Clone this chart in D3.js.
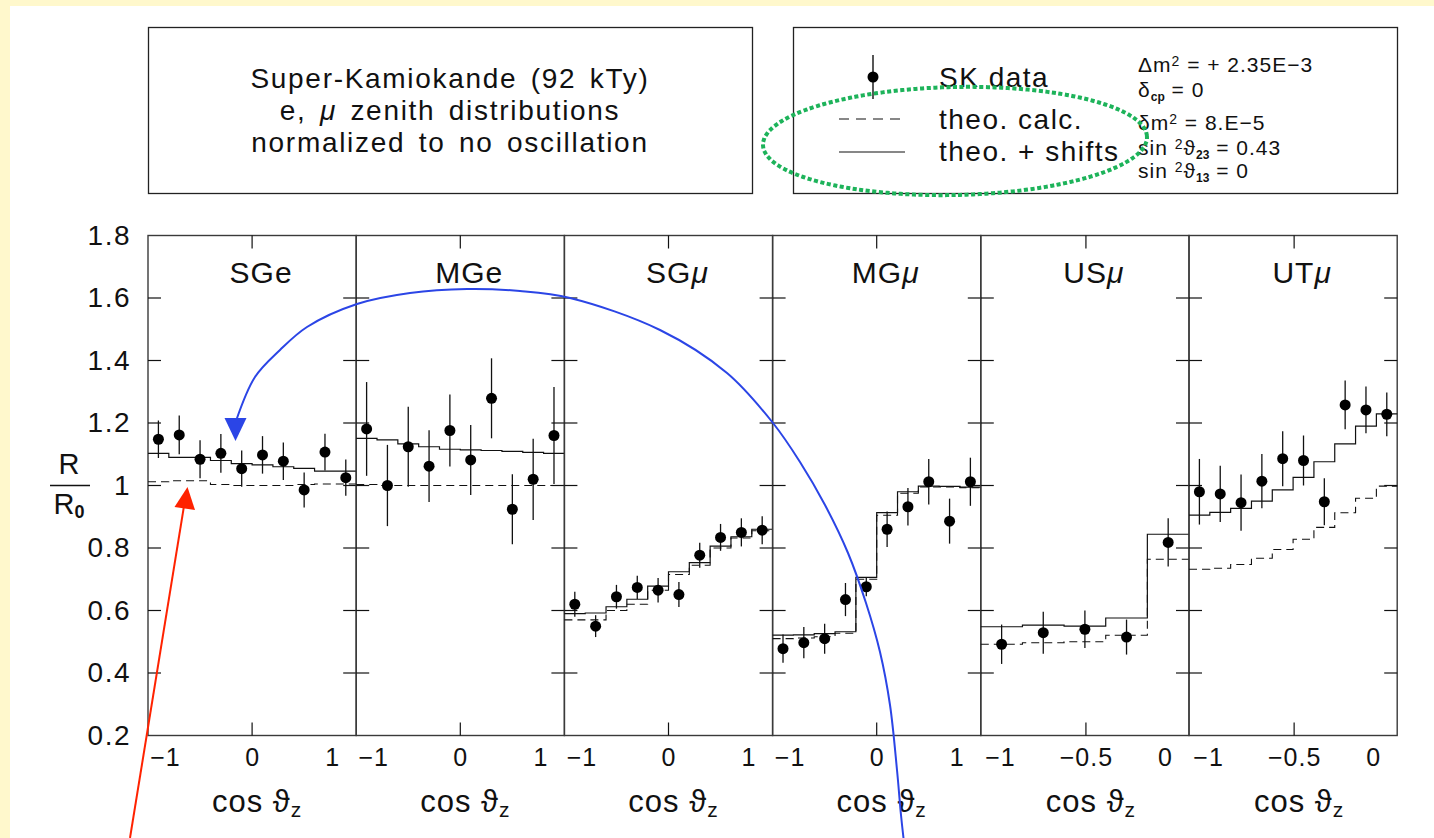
<!DOCTYPE html>
<html>
<head>
<meta charset="utf-8">
<script src="https://cdn.jsdelivr.net/npm/d3@7"></script>
<style>
  html, body { margin: 0; padding: 0; background: #fff8cc; }
  svg { display: block; }
  text { font-family: "Liberation Sans", Arial, Helvetica, sans-serif; fill: #111; }
</style>
</head>
<body>
<svg id="chart" width="1434" height="838"></svg>
<script>
// ---------------- DATA ----------------
const panelPrefix = ["SG", "MG", "SG", "MG", "US", "UT"];
const panelFlavor = ["e", "e", "μ", "μ", "μ", "μ"];
const panelKind   = ["full", "full", "full", "full", "up", "up"];

const yTicks = [1.8, 1.6, 1.4, 1.2, 1.0, 0.8, 0.6, 0.4, 0.2];
const yTickLabels = ["1.8", "1.6", "1.4", "1.2", "1", "0.8", "0.6", "0.4", "0.2"];
const xTicksFull = [-1, 0, 1];
const xTickLabelsFull = ["−1", "0", "1"];
const xTicksUp = [-1, -0.5, 0];
const xTickLabelsUp = ["−1", "−0.5", "0"];

// SK data (ratio to no oscillation), errors, theory, theory + shifts
const sgeData  = [1.148, 1.162, 1.084, 1.103, 1.054, 1.098, 1.078, 0.986, 1.107, 1.025];
const sgeErr   = [0.060, 0.062, 0.061, 0.062, 0.058, 0.060, 0.060, 0.056, 0.059, 0.058];
const sgeTheo  = [1.012, 1.015, 1.015, 1.003, 1.000, 1.000, 1.000, 1.003, 1.005, 1.005];
const sgeShift = [1.103, 1.090, 1.090, 1.080, 1.070, 1.066, 1.060, 1.055, 1.046, 1.046];

const mgeData  = [1.181, 1.000, 1.124, 1.062, 1.176, 1.082, 1.279, 0.924, 1.020, 1.160];
const mgeErr   = [0.150, 0.130, 0.128, 0.115, 0.115, 0.112, 0.128, 0.112, 0.130, 0.155];
const mgeTheo  = [1.003, 1.000, 1.000, 1.000, 1.000, 1.000, 1.000, 1.000, 1.000, 1.000];
const mgeShift = [1.151, 1.146, 1.133, 1.124, 1.116, 1.114, 1.112, 1.109, 1.106, 1.103];

const sgmData  = [0.620, 0.550, 0.644, 0.674, 0.665, 0.651, 0.777, 0.834, 0.850, 0.857];
const sgmErr   = [0.040, 0.035, 0.038, 0.037, 0.039, 0.040, 0.040, 0.043, 0.045, 0.045];
const sgmTheo  = [0.570, 0.570, 0.600, 0.620, 0.665, 0.715, 0.745, 0.800, 0.832, 0.855];
const sgmShift = [0.590, 0.592, 0.612, 0.636, 0.678, 0.724, 0.753, 0.806, 0.836, 0.860];

const mgmData  = [0.478, 0.497, 0.510, 0.635, 0.676, 0.860, 0.932, 1.012, 0.886, 1.012];
const mgmErr   = [0.045, 0.050, 0.048, 0.053, 0.030, 0.057, 0.060, 0.073, 0.072, 0.077];
const mgmTheo  = [0.510, 0.512, 0.516, 0.527, 0.700, 0.905, 0.975, 0.995, 0.995, 0.993];
const mgmShift = [0.521, 0.522, 0.526, 0.532, 0.706, 0.913, 0.980, 0.998, 0.997, 0.995];

const usmData  = [0.492, 0.529, 0.540, 0.515, 0.818];
const usmErr   = [0.063, 0.067, 0.060, 0.056, 0.077];
const usmTheo  = [0.492, 0.497, 0.500, 0.521, 0.764];
const usmShift = [0.548, 0.553, 0.550, 0.576, 0.844];

const utmData  = [0.980, 0.973, 0.945, 1.014, 1.086, 1.080, 0.948, 1.258, 1.242, 1.228];
const utmErr   = [0.105, 0.090, 0.090, 0.087, 0.088, 0.080, 0.075, 0.078, 0.075, 0.070];
const utmTheo  = [0.732, 0.735, 0.747, 0.767, 0.795, 0.828, 0.866, 0.913, 0.959, 0.998];
const utmShift = [0.905, 0.914, 0.927, 0.950, 0.986, 1.026, 1.076, 1.133, 1.190, 1.229];

const panelData  = [sgeData, mgeData, sgmData, mgmData, usmData, utmData];
const panelErr   = [sgeErr, mgeErr, sgmErr, mgmErr, usmErr, utmErr];
const panelTheo  = [sgeTheo, mgeTheo, sgmTheo, mgmTheo, usmTheo, utmTheo];
const panelShift = [sgeShift, mgeShift, sgmShift, mgmShift, usmShift, utmShift];

// Text
const titleLines = ["Super-Kamiokande (92 kTy)", "zenith distributions", "normalized to no oscillation"];
const legendLabels = ["SK data", "theo. calc.", "theo. + shifts"];

// Hand-drawn annotations (overlay, in page pixels)
const blueCurve = [[236,421],[255,377],[280,350],[307,327],[357,304],[410,293],[467,289],[520,291],[570,298],
                   [660,330],[727,373],[773,423],[800,462],[825,505],[848,553],[866,603],[880,652],
                   [890,705],[897,770],[901,815],[903.5,838]];
const blueHead = [[235.5,441],[224.5,418],[246.5,418]];
const redLine = [[130,838],[184,506]];
const redHead = [[187.5,487],[174.5,507],[195,510]];

// ---------------- LAYOUT ----------------
const svg = d3.select("#chart");
const W = 1434, H = 838;
const plotL = 148, plotR = 1397.2, plotT = 235.5, plotB = 735.5;
const nP = panelPrefix.length;
const pw = (plotR - plotL) / nP;
const FONT = "Liberation Sans, Arial, sans-serif";

svg.append("rect").attr("x", 0).attr("y", 0).attr("width", W).attr("height", H).attr("fill", "#fff8cc");
svg.append("rect").attr("x", 10).attr("y", 6).attr("width", W - 10).attr("height", H - 6).attr("fill", "#ffffff");

const y = d3.scaleLinear().domain([0.2, 1.8]).range([plotB, plotT]);

// Top boxes
svg.append("rect").attr("x", 148.5).attr("y", 27.5).attr("width", 604).attr("height", 166)
  .attr("fill", "none").attr("stroke", "#222").attr("stroke-width", 1.3);
svg.append("rect").attr("x", 793.5).attr("y", 27.5).attr("width", 604).attr("height", 166)
  .attr("fill", "none").attr("stroke", "#222").attr("stroke-width", 1.3);

// Title text
const tcx = 450;
const tAttrs = s => s.attr("text-anchor", "middle").attr("font-size", 28).attr("letter-spacing", 1.7).attr("word-spacing", 4);
tAttrs(svg.append("text").attr("x", tcx).attr("y", 88)).text(titleLines[0]);
const t2 = tAttrs(svg.append("text").attr("x", tcx).attr("y", 120));
t2.append("tspan").text("e, ");
t2.append("tspan").attr("font-style", "italic").text("μ");
t2.append("tspan").text("  " + titleLines[1]);
tAttrs(svg.append("text").attr("x", tcx).attr("y", 152)).text(titleLines[2]);

// Legend
const lg = svg.append("g");
lg.append("line").attr("x1", 873).attr("x2", 873).attr("y1", 55).attr("y2", 99).attr("stroke", "#111").attr("stroke-width", 1.4);
lg.append("circle").attr("cx", 873).attr("cy", 77).attr("r", 5.5).attr("fill", "#000");
const lAttrs = s => s.attr("font-size", 28).attr("letter-spacing", 1.5);
lAttrs(lg.append("text").attr("x", 939).attr("y", 87)).text(legendLabels[0]);
lg.append("line").attr("x1", 839).attr("x2", 904).attr("y1", 119).attr("y2", 119)
  .attr("stroke", "#111").attr("stroke-width", 1.1).attr("stroke-dasharray", "10,7");
lAttrs(lg.append("text").attr("x", 939).attr("y", 129)).text(legendLabels[1]);
lg.append("line").attr("x1", 839).attr("x2", 905).attr("y1", 152).attr("y2", 152)
  .attr("stroke", "#111").attr("stroke-width", 1.1);
lAttrs(lg.append("text").attr("x", 939).attr("y", 161)).text(legendLabels[2]);

// Parameters
const px = 1138, pfs = 21;
function param(yb, parts) {
  const t = svg.append("text").attr("x", px).attr("y", yb).attr("font-size", pfs).attr("letter-spacing", 1);
  parts.forEach(p => {
    const s = t.append("tspan").text(p.t);
    if (p.sup) s.attr("font-size", 14).attr("baseline-shift", "45%");
    if (p.sub) s.attr("font-size", 12).attr("baseline-shift", "-30%").attr("font-weight", "bold").attr("letter-spacing", 0);
  });
}
param(72, [{t: "Δm"}, {t: "2", sup: true}, {t: " = + 2.35E−3"}]);
param(97, [{t: "δ"}, {t: "cp", sub: true}, {t: " = 0"}]);
param(130, [{t: "δm"}, {t: "2", sup: true}, {t: " = 8.E−5"}]);
param(155, [{t: "sin "}, {t: "2", sup: true}, {t: "ϑ"}, {t: "23", sub: true}, {t: " = 0.43"}]);
param(178, [{t: "sin "}, {t: "2", sup: true}, {t: "ϑ"}, {t: "13", sub: true}, {t: " = 0"}]);

// Y axis labels
const yAxis = d3.axisLeft(y).tickValues(yTicks).tickFormat((d, i) => yTickLabels[i]).tickSize(0).tickPadding(17);
const ya = svg.append("g").attr("transform", `translate(${plotL},0)`).call(yAxis);
ya.select(".domain").remove();
ya.selectAll("text").attr("font-size", 28).attr("fill", "#111").attr("font-family", FONT).attr("letter-spacing", 1.5);

// R / R0 label
svg.append("text").attr("x", 69).attr("y", 474).attr("text-anchor", "middle").attr("font-size", 29).text("R");
svg.append("line").attr("x1", 50).attr("x2", 90).attr("y1", 485.5).attr("y2", 485.5).attr("stroke", "#111").attr("stroke-width", 1.3);
const r0 = svg.append("text").attr("x", 69).attr("y", 514).attr("text-anchor", "middle").attr("font-size", 29);
r0.append("tspan").text("R");
r0.append("tspan").attr("font-size", 18).attr("font-weight", "bold").attr("dy", 4).text("0");

// Panels
const frameColor = "#3a3a3a";
for (let p = 0; p < nP; p++) {
  const x0 = plotL + p * pw, x1 = x0 + pw;
  const g = svg.append("g");
  const n = panelData[p].length;
  const bin = d3.scaleLinear().domain([0, n]).range([x0, x1]);
  const xDom = panelKind[p] === "full" ? [-1.3, 1.3] : [-1.165, 0.152];
  const x = d3.scaleLinear().domain(xDom).range([x0, x1]);
  const ticks = panelKind[p] === "full" ? xTicksFull : xTicksUp;
  const tickLabels = panelKind[p] === "full" ? xTickLabelsFull : xTickLabelsUp;
  const midTick = panelKind[p] === "full" ? 0 : -0.5;

  // frame
  g.append("rect").attr("x", x0).attr("y", plotT).attr("width", pw).attr("height", plotB - plotT)
    .attr("fill", "none").attr("stroke", frameColor).attr("stroke-width", 1.4);

  // y ticks inside on both sides
  yTicks.slice(1, -1).forEach(v => {
    g.append("line").attr("x1", x0).attr("x2", x0 + 13).attr("y1", y(v)).attr("y2", y(v)).attr("stroke", "#111").attr("stroke-width", 1.2);
    g.append("line").attr("x1", x1 - 13).attr("x2", x1).attr("y1", y(v)).attr("y2", y(v)).attr("stroke", "#111").attr("stroke-width", 1.2);
  });
  // x ticks (middle)
  g.append("line").attr("x1", x(midTick)).attr("x2", x(midTick)).attr("y1", plotT).attr("y2", plotT + 13).attr("stroke", "#111").attr("stroke-width", 1.2);
  g.append("line").attr("x1", x(midTick)).attr("x2", x(midTick)).attr("y1", plotB - 13).attr("y2", plotB).attr("stroke", "#111").attr("stroke-width", 1.2);

  // x axis labels
  const xa = g.append("g").attr("transform", `translate(0,${plotB})`)
    .call(d3.axisBottom(x).tickValues(ticks).tickFormat((d, i) => tickLabels[i]).tickSize(0).tickPadding(0));
  xa.select(".domain").remove();
  xa.selectAll("text").attr("font-size", 25).attr("fill", "#111").attr("dy", null).attr("y", 30)
    .attr("font-family", FONT).attr("letter-spacing", 1)
    .attr("dx", (d, i) => tickLabels[i] === "−1" ? -7 : 0);

  // x title "cos ϑz"
  const xt = g.append("text").attr("x", x(midTick) + 5).attr("y", 812).attr("text-anchor", "middle").attr("font-size", 31).attr("letter-spacing", 1);
  xt.append("tspan").text("cos ");
  xt.append("tspan").text("ϑ");
  xt.append("tspan").attr("font-size", 21).attr("dy", 5).text("z");

  // panel title
  const pt = g.append("text").attr("x", (x0 + x1) / 2 + 9).attr("y", 283).attr("text-anchor", "middle").attr("font-size", 30).attr("letter-spacing", 1);
  pt.append("tspan").text(panelPrefix[p]);
  pt.append("tspan").attr("font-style", panelFlavor[p] === "μ" ? "italic" : "normal").text(panelFlavor[p]);

  // histograms
  const stepPts = arr => arr.flatMap((v, i) => [[bin(i), y(v)], [bin(i + 1), y(v)]]);
  const line = d3.line();
  g.append("path").attr("d", line(stepPts(panelTheo[p]))).attr("fill", "none")
    .attr("stroke", "#111").attr("stroke-width", 1.1).attr("stroke-dasharray", "8,5");
  g.append("path").attr("d", line(stepPts(panelShift[p]))).attr("fill", "none")
    .attr("stroke", "#111").attr("stroke-width", 1.2);

  // data points
  const dd = panelData[p].map((v, i) => ({v, e: panelErr[p][i], cx: bin(i + 0.5)}));
  g.selectAll("line.err").data(dd).join("line").attr("class", "err")
    .attr("x1", d => d.cx).attr("x2", d => d.cx)
    .attr("y1", d => y(d.v + d.e)).attr("y2", d => y(d.v - d.e))
    .attr("stroke", "#111").attr("stroke-width", 1.3);
  g.selectAll("circle.pt").data(dd).join("circle").attr("class", "pt")
    .attr("cx", d => d.cx).attr("cy", d => y(d.v)).attr("r", 5.5).attr("fill", "#000");
}

// ---------------- ANNOTATIONS ----------------
svg.append("ellipse").attr("cx", 955).attr("cy", 141).attr("rx", 192).attr("ry", 54)
  .attr("transform", "rotate(-1.2 955 141)")
  .attr("fill", "none").attr("stroke", "#1db35a").attr("stroke-width", 4)
  .attr("stroke-dasharray", "0.1,6.5").attr("stroke-linecap", "square");

svg.append("path").attr("d", d3.line().curve(d3.curveCatmullRom)(blueCurve))
  .attr("fill", "none").attr("stroke", "#2b45e6").attr("stroke-width", 2);
svg.append("polygon").attr("points", blueHead.map(p => p.join(",")).join(" ")).attr("fill", "#2b45e6");

svg.append("line").attr("x1", redLine[0][0]).attr("y1", redLine[0][1]).attr("x2", redLine[1][0]).attr("y2", redLine[1][1])
  .attr("stroke", "#ff2200").attr("stroke-width", 2);
svg.append("polygon").attr("points", redHead.map(p => p.join(",")).join(" ")).attr("fill", "#ff2200");
</script>
</body>
</html>
